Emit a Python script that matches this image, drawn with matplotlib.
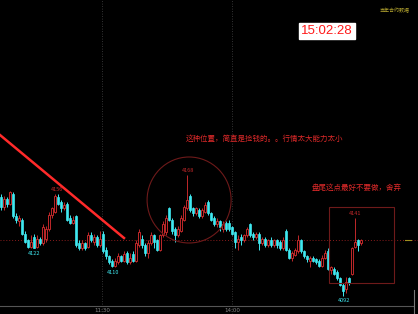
import matplotlib
matplotlib.use("Agg")
import matplotlib.pyplot as plt
from matplotlib.patches import Ellipse, Rectangle

plt.rcParams['font.family'] = ['Noto Sans CJK SC', 'DejaVu Sans']

# one-minute style candles
opens = [4154, 4148, 4153, 4150, 4156, 4142, 4139, 4140, 4131, 4127,
         4123, 4129, 4123, 4128, 4125, 4128, 4134, 4143, 4145, 4154,
         4151, 4147, 4150, 4141, 4138, 4142, 4125, 4122, 4125, 4123,
         4130, 4126, 4129, 4124, 4131, 4121, 4117, 4114, 4111, 4113,
         4117, 4114, 4119, 4113, 4118, 4114, 4124, 4128, 4124, 4119,
         4125, 4130, 4127, 4121, 4130, 4132, 4147, 4140, 4134, 4130,
         4133, 4140, 4147, 4155, 4147, 4144, 4146, 4142, 4145, 4151,
         4144, 4141, 4137, 4139, 4134, 4138, 4138, 4135, 4132, 4126,
         4129, 4127, 4130, 4137, 4131, 4129, 4131, 4125, 4128, 4124,
         4127, 4124, 4127, 4126, 4122, 4133, 4121, 4116, 4118, 4120,
         4127, 4120, 4117, 4114, 4116, 4115, 4114, 4111, 4116, 4120,
         4108, 4109, 4107, 4103, 4099, 4096, 4103, 4106, 4123, 4127,
         4125]
closes = [4148, 4153, 4150, 4157, 4142, 4140, 4141, 4131, 4126, 4123,
          4126, 4122, 4128, 4125, 4135, 4134, 4143, 4147, 4155, 4150,
          4147, 4149, 4140, 4138, 4140, 4124, 4122, 4125, 4122, 4130,
          4127, 4129, 4124, 4128, 4120, 4117, 4113, 4111, 4114, 4117,
          4114, 4118, 4113, 4116, 4114, 4125, 4132, 4124, 4119, 4125,
          4130, 4126, 4121, 4130, 4137, 4141, 4140, 4133, 4130, 4134,
          4141, 4148, 4152, 4146, 4144, 4147, 4142, 4146, 4149, 4144,
          4140, 4137, 4139, 4135, 4137, 4134, 4134, 4131, 4126, 4128,
          4127, 4130, 4134, 4130, 4129, 4131, 4125, 4128, 4124, 4127,
          4124, 4127, 4124, 4122, 4127, 4121, 4116, 4119, 4121, 4127,
          4120, 4117, 4115, 4116, 4114, 4113, 4111, 4116, 4119, 4109,
          4110, 4106, 4103, 4099, 4095, 4101, 4100, 4122, 4126, 4124,
          4127]
highs = [4156, 4155, 4154, 4158, 4157, 4144, 4143, 4141, 4133, 4128,
         4130, 4131, 4130, 4129, 4137, 4136, 4145, 4148, 4156, 4156,
         4152, 4151, 4151, 4143, 4142, 4143, 4127, 4127, 4126, 4132,
         4132, 4131, 4130, 4133, 4133, 4123, 4118, 4115, 4116, 4119,
         4118, 4120, 4120, 4119, 4120, 4127, 4134, 4130, 4125, 4127,
         4132, 4131, 4128, 4131, 4139, 4143, 4148, 4141, 4135, 4136,
         4143, 4149, 4168, 4156, 4148, 4148, 4147, 4147, 4151, 4152,
         4145, 4142, 4141, 4140, 4139, 4139, 4140, 4136, 4133, 4130,
         4131, 4131, 4135, 4138, 4132, 4132, 4132, 4129, 4129, 4128,
         4129, 4128, 4128, 4127, 4129, 4134, 4122, 4120, 4122, 4130,
         4128, 4121, 4118, 4117, 4117, 4116, 4115, 4118, 4121, 4122,
         4111, 4110, 4108, 4104, 4100, 4104, 4104, 4123, 4141, 4128,
         4128]
lows = [4146, 4146, 4148, 4149, 4141, 4138, 4136, 4130, 4125, 4122,
        4122, 4122, 4122, 4124, 4124, 4126, 4133, 4141, 4144, 4149,
        4145, 4146, 4139, 4137, 4137, 4123, 4121, 4121, 4121, 4122,
        4126, 4124, 4123, 4123, 4119, 4115, 4112, 4110, 4110, 4112,
        4113, 4113, 4112, 4112, 4113, 4113, 4123, 4122, 4117, 4116,
        4124, 4122, 4120, 4120, 4129, 4130, 4139, 4131, 4126, 4129,
        4132, 4139, 4146, 4145, 4142, 4143, 4141, 4141, 4144, 4143,
        4139, 4136, 4135, 4133, 4132, 4133, 4133, 4130, 4122, 4121,
        4124, 4126, 4129, 4129, 4127, 4128, 4121, 4124, 4123, 4123,
        4123, 4123, 4122, 4121, 4121, 4120, 4115, 4114, 4117, 4119,
        4119, 4116, 4113, 4110, 4113, 4112, 4110, 4110, 4115, 4108,
        4106, 4105, 4102, 4098, 4092, 4094, 4099, 4105, 4122, 4120,
        4124]

prev_close = 4127
time_labels = ["11:30", "14:00"]
time_pos = [33.7, 77]
note1 = "这种位置，简直是捡钱的。。行情太大能力太小"
note2 = "盘尾这点最好不要做，舍弃"
clock = "15:02:28"

up_col = "#c0282a"
down_col = "#3fe8f0"
dark_red = "#6e1a1a"

fig = plt.figure(figsize=(4.18, 3.14), dpi=100, facecolor="black")
ax = fig.add_axes([0, 0, 1, 1])
ax.set_facecolor("black")

# pixel -> data: x = (px-1)/3, price = 4168 - (py-175)/1.59
ax.set_xlim(-1/3, 139)
ax.set_ylim(4168 - 139/1.59, 4168 + 175/1.59)
ax.axis("off")

for i in range(len(opens)):
    o, c, h, l = opens[i], closes[i], highs[i], lows[i]
    if c >= o:
        ax.vlines(i, l, h, color=up_col, lw=0.7, zorder=3)
        ax.add_patch(Rectangle((i - 0.35, o), 0.7, max(c - o, 0.4),
                               facecolor="black", edgecolor=up_col, lw=0.7, zorder=4))
    else:
        ax.vlines(i, l, h, color=down_col, lw=0.7, zorder=3)
        ax.add_patch(Rectangle((i - 0.35, c), 0.7, o - c,
                               facecolor=down_col, edgecolor=down_col, lw=0.5, zorder=4))

ax.axhline(prev_close, color="#8a1c1c", lw=0.7, ls=(0, (1, 2)), zorder=1)
for t in time_pos:
    ax.axvline(t, color="#444444", lw=0.6, ls=(0, (1, 2)), zorder=1)

bottom = 4168 - 131/1.59
right = (413 - 1) / 3
ax.plot([-1, right], [bottom, bottom], color="#555555", lw=0.8)
for t, lab in zip(time_pos, time_labels):
    ax.text(t, bottom - 1.3, lab, color="#888888", fontsize=4, ha="center", va="top",
            family=["DejaVu Sans"])

# extreme value labels
ax.text(11, 4122 - 1.5, "4122", color=down_col, fontsize=4, ha="center", va="top")
ax.text(37.3, 4110 - 1.5, "4110", color=down_col, fontsize=4, ha="center", va="top")
ax.text(114.3, 4092 - 1.5, "4092", color=down_col, fontsize=4, ha="center", va="top")
ax.text(18.7, 4156 + 1, "4156", color=up_col, fontsize=4, ha="center", va="bottom")
ax.text(62.3, 4168 + 1, "4168", color=up_col, fontsize=4, ha="center", va="bottom")
ax.text(118, 4141 + 1, "4141", color=up_col, fontsize=4, ha="center", va="bottom")

# hand drawn marks
ax.plot([-1/3, 41], [4168 + 40/1.59, 4168 - 63/1.59], color="#ff2a2a", lw=1.8, zorder=5)
ax.add_patch(Ellipse((62.7, 4168 - 25/1.59), 28, 86/1.59, fill=False,
                     edgecolor=dark_red, lw=0.8, zorder=5))
ax.add_patch(Rectangle((109.3, 4168 - 108/1.59), 21.7, 76/1.59, fill=False,
                       edgecolor=dark_red, lw=0.8, zorder=5))

ax.text(61.7, 4168 + 36/1.59, note1, color="#e02a2a", fontsize=5.4, va="center", ha="left")
ax.text(103.7, 4168 - 13/1.59, note2, color="#e02a2a", fontsize=5.4, va="center", ha="left")

ax.text(108.7, 4168 + 144/1.59, clock, color="#ff1a1a", fontsize=9.5, va="center", ha="center",
        family=["Liberation Sans"],
        bbox=dict(boxstyle="square,pad=0.15", facecolor="white", edgecolor="white"))
ax.text(131, 4168 + 164/1.59, "当年合约数据", color="#b8a830", fontsize=3.6, va="center", ha="center")

# right edge bits
ax.plot([134.7, 136.7], [prev_close, prev_close], color="#a09020", lw=0.8)
ax.plot([137.7, 137.7], [4168 - 115/1.59, 4060], color="#777777", lw=0.8)

fig.savefig("out.png", dpi=100, facecolor="black")
